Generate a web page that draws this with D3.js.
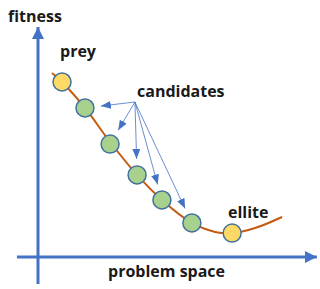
<!DOCTYPE html>
<html>
<head>
<meta charset="utf-8">
<script src="https://cdn.jsdelivr.net/npm/d3@7"></script>
<style>
  body { margin: 0; background: #fff; }
  text { font-family: "Open Sans", "DejaVu Sans", sans-serif; font-weight: bold; fill: #1a1a1a; }
</style>
</head>
<body>
<div id="chart"></div>
<script>
let width = 320,
    height = 289;

// fitness curve over the problem space (0..100 both ways)
let curveX = [5.2, 8.9, 17.4, 26.7, 36.7, 45.9, 57.0, 65.6, 71.9, 80.4, 90.4];
let curveY = [80.0, 76.1, 64.8, 50.0, 35.7, 24.8, 14.8, 10.9, 10.4, 12.6, 17.4];

// individuals sitting on the curve
let pointX = [8.9, 17.4, 26.7, 36.7, 45.9, 57.0, 71.9];
let pointY = [76.1, 64.8, 49.1, 35.7, 24.8, 14.8, 10.4];
let pointKind = ["prey", "cand", "cand", "cand", "cand", "cand", "elite"];

// where the "candidates" arrows start
let arrowFrom = [35.9, 67.4];

let labels = ["fitness", "prey", "candidates", "ellite", "problem space"];

let blue = "#4472c4";
let orange = "#c55a11";
let yellow = "#ffd966";
let green = "#a9d18e";
let ring = "#41719c";

let svg = d3.select("#chart")
    .append("svg")
    .attr("width", width)
    .attr("height", height);

let x = d3.scaleLinear().domain([0, 100]).range([38, 308]);
let y = d3.scaleLinear().domain([0, 100]).range([257, 27]);

//arrow heads
let defs = svg.append("defs");
defs.append("marker")
    .attr("id", "axisHead")
    .attr("viewBox", "0 0 12 12")
    .attr("refX", 12).attr("refY", 6)
    .attr("markerWidth", 12).attr("markerHeight", 12)
    .attr("markerUnits", "userSpaceOnUse")
    .attr("orient", "auto")
    .append("path")
    .attr("d", "M0,0 L12,6 L0,12 Z")
    .attr("fill", blue);
defs.append("marker")
    .attr("id", "thinHead")
    .attr("viewBox", "0 0 10 8")
    .attr("refX", 10).attr("refY", 4)
    .attr("markerWidth", 10).attr("markerHeight", 8)
    .attr("markerUnits", "userSpaceOnUse")
    .attr("orient", "auto")
    .append("path")
    .attr("d", "M0,0 L10,4 L0,8 Z")
    .attr("fill", blue);

//axes
svg.append("line")
    .attr("x1", x(0)).attr("y1", y(-11.7))
    .attr("x2", x(0)).attr("y2", y(100))
    .attr("stroke", blue).attr("stroke-width", 3)
    .attr("marker-end", "url(#axisHead)");
svg.append("line")
    .attr("x1", x(-7.8)).attr("y1", y(0))
    .attr("x2", x(103.3)).attr("y2", y(0))
    .attr("stroke", blue).attr("stroke-width", 3)
    .attr("marker-end", "url(#axisHead)");

//the curve
let curveData = curveX.map((v, i) => [v, curveY[i]]);
let line = d3.line()
    .x(d => x(d[0]))
    .y(d => y(d[1]))
    .curve(d3.curveCatmullRom);
svg.append("path")
    .attr("d", line(curveData))
    .attr("fill", "none")
    .attr("stroke", orange)
    .attr("stroke-width", 2);

//arrows from the label to each candidate
let r = 9;
let ox = x(arrowFrom[0]), oy = y(arrowFrom[1]);
pointKind.forEach(function(k, i){
    if (k !== "cand") return;
    let cx = x(pointX[i]), cy = y(pointY[i]);
    let dx = cx - ox, dy = cy - oy;
    let len = Math.sqrt(dx * dx + dy * dy);
    let back = r + 7;
    svg.append("line")
        .attr("x1", ox).attr("y1", oy)
        .attr("x2", cx - dx / len * back)
        .attr("y2", cy - dy / len * back)
        .attr("stroke", blue)
        .attr("stroke-width", 0.8)
        .attr("marker-end", "url(#thinHead)");
});

//points
svg.selectAll("circle.pt")
    .data(pointKind)
    .enter()
    .append("circle")
    .attr("class", "pt")
    .attr("cx", (d, i) => x(pointX[i]))
    .attr("cy", (d, i) => y(pointY[i]))
    .attr("r", r)
    .attr("fill", d => d === "cand" ? green : yellow)
    .attr("stroke", ring)
    .attr("stroke-width", 1.5);

//labels
let labelPos = [[8, 22], [60, 57], [137, 97], [228, 218], [108, 277]];
svg.selectAll("text.lbl")
    .data(labels)
    .enter()
    .append("text")
    .attr("class", "lbl")
    .attr("x", (d, i) => labelPos[i][0])
    .attr("y", (d, i) => labelPos[i][1])
    .style("font-size", "16px")
    .text(d => d);
</script>
</body>
</html>
